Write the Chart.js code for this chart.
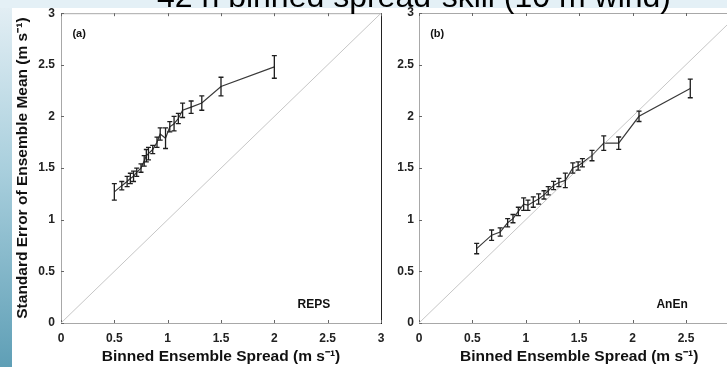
<!DOCTYPE html>
<html>
<head>
<meta charset="utf-8">
<script src="https://cdn.jsdelivr.net/npm/chart.js@4.4.1/dist/chart.umd.min.js"></script>
<style>
  html, body { margin: 0; padding: 0; width: 727px; height: 367px; overflow: hidden; background: #fff; }
  #band { position: absolute; left: 0; top: 0; width: 727px; height: 8px; background: #e4f0f6; }
  #strip { position: absolute; left: 0; top: 8px; width: 12px; height: 359px;
           background: linear-gradient(#e2eef4, #a9cfdd 45%, #5f9fb6); }
  #title { position: absolute; left: 414px; top: -20px; transform: translateX(-50%);
           font: 32px 'Liberation Sans', Arial, sans-serif; line-height: 32px; white-space: nowrap; color: #000; }
  canvas { position: absolute; top: 0; }
</style>
</head>
<body>
<div id="band"></div>
<div id="strip"></div>
<canvas id="repsChart" width="400" height="367" style="left:0"></canvas>
<canvas id="anenChart" width="370" height="367" style="left:385px"></canvas>
<div id="title">42 h binned spread-skill (10 m wind)</div>
<script>
'use strict';

// shared axis ticks (both axes, both panels)
const tickVals = [0, 0.5, 1, 1.5, 2, 2.5, 3];
const tickLabels = ['0', '0.5', '1', '1.5', '2', '2.5', '3'];

// (a) REPS: binned spread, error of ensemble mean, half-length of error bar
const repsSpread = [0.50, 0.57, 0.62, 0.65, 0.68, 0.71, 0.75, 0.78, 0.80, 0.82, 0.86, 0.90, 0.93, 0.98, 1.02, 1.06, 1.10, 1.14, 1.22, 1.32, 1.50, 2.00];
const repsError  = [1.27, 1.33, 1.37, 1.40, 1.42, 1.46, 1.50, 1.57, 1.62, 1.64, 1.68, 1.75, 1.83, 1.79, 1.90, 1.93, 1.98, 2.06, 2.09, 2.13, 2.29, 2.48];
const repsBar    = [0.08, 0.04, 0.05, 0.05, 0.05, 0.04, 0.04, 0.05, 0.06, 0.06, 0.04, 0.05, 0.06, 0.10, 0.05, 0.07, 0.05, 0.07, 0.06, 0.07, 0.09, 0.11];

// (b) AnEn
const anenSpread = [0.54, 0.68, 0.76, 0.83, 0.88, 0.93, 0.98, 1.02, 1.07, 1.12, 1.17, 1.21, 1.26, 1.31, 1.37, 1.44, 1.49, 1.53, 1.62, 1.73, 1.87, 2.06, 2.54];
const anenError  = [0.72, 0.85, 0.88, 0.97, 1.01, 1.08, 1.15, 1.14, 1.17, 1.20, 1.24, 1.28, 1.33, 1.36, 1.38, 1.50, 1.52, 1.55, 1.62, 1.74, 1.74, 2.00, 2.27];
const anenBar    = [0.05, 0.05, 0.04, 0.04, 0.04, 0.04, 0.06, 0.05, 0.05, 0.05, 0.04, 0.04, 0.04, 0.04, 0.07, 0.05, 0.04, 0.04, 0.05, 0.07, 0.06, 0.05, 0.09];

const perfect = [{ x: 0, y: 0 }, { x: 3, y: 3 }];

const FONT = "'Liberation Sans', Arial, sans-serif";

// box, inward ticks, error bars and panel labels
const panelDeco = {
  id: 'panelDeco',
  beforeDatasetsDraw(chart, args, opts) {
    const { ctx, chartArea: a, scales: { x, y } } = chart;
    ctx.save();
    ctx.lineWidth = 1;
    ctx.strokeStyle = '#a8a8a8';
    ctx.beginPath();
    ctx.moveTo(a.left + 0.5, a.top + 0.5);
    ctx.lineTo(a.left + 0.5, a.bottom + 0.5);
    ctx.lineTo(a.right, a.bottom + 0.5);
    ctx.moveTo(a.left, a.top + 0.5);
    ctx.lineTo(a.right, a.top + 0.5);
    ctx.stroke();
    ctx.strokeStyle = opts.rightSpine;
    ctx.beginPath();
    ctx.moveTo(a.right + 0.5, a.top);
    ctx.lineTo(a.right + 0.5, a.bottom + 1);
    ctx.stroke();
    ctx.strokeStyle = '#666';
    ctx.beginPath();
    tickVals.forEach(v => {
      const px = Math.round(x.getPixelForValue(v)) + 0.5;
      ctx.moveTo(px, a.bottom); ctx.lineTo(px, a.bottom - 3);
      ctx.moveTo(px, a.top); ctx.lineTo(px, a.top + 3);
      const py = Math.round(y.getPixelForValue(v)) + 0.5;
      ctx.moveTo(a.left, py); ctx.lineTo(a.left + 3, py);
    });
    ctx.stroke();
    ctx.restore();
  },
  afterDatasetsDraw(chart, args, opts) {
    const { ctx, scales: { x, y } } = chart;
    const ds = chart.data.datasets[1];
    ctx.save();
    ctx.strokeStyle = '#1e1e1e';
    ctx.lineWidth = 1.3;
    ds.data.forEach((p, i) => {
      const e = ds.errorBars[i];
      const px = x.getPixelForValue(p.x);
      const lo = y.getPixelForValue(p.y - e);
      const hi = y.getPixelForValue(p.y + e);
      ctx.beginPath();
      ctx.moveTo(px, lo); ctx.lineTo(px, hi);
      ctx.moveTo(px - 2.5, lo); ctx.lineTo(px + 2.5, lo);
      ctx.moveTo(px - 2.5, hi); ctx.lineTo(px + 2.5, hi);
      ctx.stroke();
    });
    ctx.fillStyle = '#111';
    ctx.textAlign = 'center';
    ctx.textBaseline = 'middle';
    ctx.font = 'bold 11px ' + FONT;
    ctx.fillText(opts.letter, x.getPixelForValue(0.17), y.getPixelForValue(2.8));
    ctx.font = 'bold 12px ' + FONT;
    ctx.fillText(opts.name, x.getPixelForValue(2.37), y.getPixelForValue(0.18));
    ctx.restore();
  }
};

function makePanel(id, spread, err, bars, deco, yAxisWidth, rightPad, labelPad, yTitle) {
  const points = spread.map((s, i) => ({ x: s, y: err[i] }));
  const tickFont = { family: FONT, size: 12, weight: 'bold' };
  const axis = {
    type: 'linear',
    min: 0,
    max: 3,
    grid: { display: false, drawTicks: false },
    border: { display: false },
    afterBuildTicks: s => { s.ticks = tickVals.map(v => ({ value: v })); },
    ticks: {
      color: '#222',
      font: tickFont,
      autoSkip: false,
      maxRotation: 0,
      callback: v => tickLabels[tickVals.indexOf(v)]
    }
  };
  return new Chart(document.getElementById(id).getContext('2d'), {
    type: 'scatter',
    data: {
      datasets: [{
        data: perfect,
        showLine: true,
        borderColor: '#c6c6c6',
        borderWidth: 1,
        pointRadius: 0
      }, {
        data: points,
        errorBars: bars,
        showLine: true,
        borderColor: '#3a3a3a',
        borderWidth: 1.2,
        pointRadius: 0,
        tension: 0
      }]
    },
    options: {
      responsive: false,
      animation: false,
      events: [],
      layout: { padding: { left: 0, right: rightPad, top: 13, bottom: 0 } },
      plugins: {
        legend: { display: false },
        tooltip: { enabled: false },
        panelDeco: deco
      },
      scales: {
        x: Object.assign({}, axis, {
          ticks: Object.assign({}, axis.ticks, { padding: 8 }),
          title: {
            display: true,
            text: 'Binned Ensemble Spread (m s⁻¹)',
            color: '#111',
            font: { family: FONT, size: 15.5, weight: 'bold' },
            padding: { top: 0, bottom: 1 }
          },
          afterFit: s => { s.height = 44; }
        }),
        y: Object.assign({}, axis, {
          ticks: Object.assign({}, axis.ticks, { padding: labelPad }),
          title: {
            display: !!yTitle,
            text: yTitle || '',
            color: '#111',
            font: { family: FONT, size: 15.5, weight: 'bold' },
            padding: { top: 13, bottom: 0 }
          },
          afterFit: s => { s.width = yAxisWidth; }
        })
      }
    },
    plugins: [panelDeco]
  });
}

makePanel('repsChart', repsSpread, repsError, repsBar,
  { letter: '(a)', name: 'REPS', rightSpine: '#222' }, 61, 19, 6,
  'Standard Error of Ensemble Mean (m s⁻¹)');
makePanel('anenChart', anenSpread, anenError, anenBar,
  { letter: '(b)', name: 'AnEn', rightSpine: '#a8a8a8' }, 34, 15.6, 5, null);
</script>
</body>
</html>
